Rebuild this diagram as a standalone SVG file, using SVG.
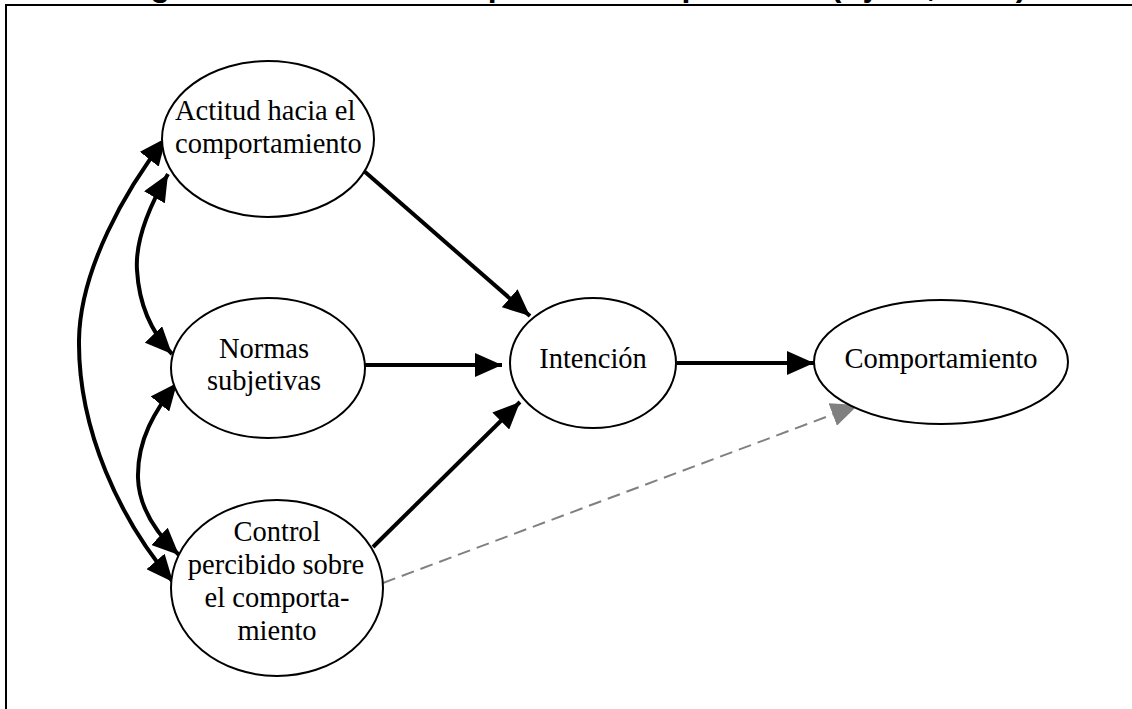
<svg xmlns="http://www.w3.org/2000/svg" width="1132" height="709" viewBox="0 0 1132 709">
<style>
.node ellipse{fill:#fff;stroke:#000;stroke-width:2}
.node text{font-family:"Liberation Serif","Times New Roman",serif;font-size:28.5px;fill:#000}
.c{text-anchor:middle}
.conn{fill:none;stroke:#000;stroke-width:4}
.dash{fill:none;stroke:#808080;stroke-width:2;stroke-dasharray:13 7}
.title{font-family:"Liberation Sans",Arial,sans-serif;font-weight:bold;font-size:32px;fill:#000}
</style>
<defs>
<marker id="ah" markerUnits="userSpaceOnUse" markerWidth="28" markerHeight="24" refX="27" refY="12" orient="auto-start-reverse" viewBox="0 0 28 24">
<path d="M0,0 L27,12 L0,24 z" fill="#000"/>
</marker>
<marker id="ahg" markerUnits="userSpaceOnUse" markerWidth="28" markerHeight="24" refX="27" refY="12" orient="auto" viewBox="0 0 28 24">
<path d="M0,0 L27,12 L0,24 z" fill="#808080"/>
</marker>
</defs>
<rect width="1132" height="709" fill="#fff"/>
<text class="title" x="122" y="-4">Figura 1. Teoría del comportamiento planeado (Ajzen, 1991)</text>
<path d="M6,709 V5 H1132" fill="none" stroke="#000" stroke-width="2"/>
<g id="connectors">
<path class="conn" d="M364,171 L530,316" marker-end="url(#ah)"/>
<path class="conn" d="M365,365 L502,365" marker-end="url(#ah)"/>
<path class="conn" d="M373,547 L520,402" marker-end="url(#ah)"/>
<path class="conn" d="M677,363 L814,363" marker-end="url(#ah)"/>
<path class="dash" d="M383,583 L858,405" marker-end="url(#ahg)"/>
<path class="conn" d="M168,174 C150,205 135,240 137,270 C139,305 152,333 172,354" marker-start="url(#ah)" marker-end="url(#ah)"/>
<path class="conn" d="M177,383 C155,410 137,440 138,478 C139,510 158,535 179,555" marker-start="url(#ah)" marker-end="url(#ah)"/>
<path class="conn" d="M166,138 C125,190 80,270 79,340 C78,430 120,520 173,582" marker-start="url(#ah)" marker-end="url(#ah)"/>
</g>
<g id="actitud" class="node">
<ellipse cx="268" cy="139" rx="106" ry="78"/>
<text x="175" y="120">Actitud hacia el</text>
<text x="175" y="153">comportamiento</text>
</g>
<g id="normas" class="node">
<ellipse cx="268" cy="368" rx="97" ry="70"/>
<text class="c" x="264" y="358">Normas</text>
<text class="c" x="264" y="390">subjetivas</text>
</g>
<g id="control" class="node">
<ellipse cx="277" cy="588" rx="106" ry="88"/>
<text class="c" x="277" y="541">Control</text>
<text class="c" x="276" y="574">percibido sobre</text>
<text class="c" x="277" y="607">el comporta-</text>
<text class="c" x="277" y="640">miento</text>
</g>
<g id="intencion" class="node">
<ellipse cx="593" cy="363" rx="83" ry="65"/>
<text class="c" x="593" y="368">Intención</text>
</g>
<g id="comportamiento" class="node">
<ellipse cx="941" cy="362" rx="127" ry="62"/>
<text class="c" x="941" y="368">Comportamiento</text>
</g>
</svg>
